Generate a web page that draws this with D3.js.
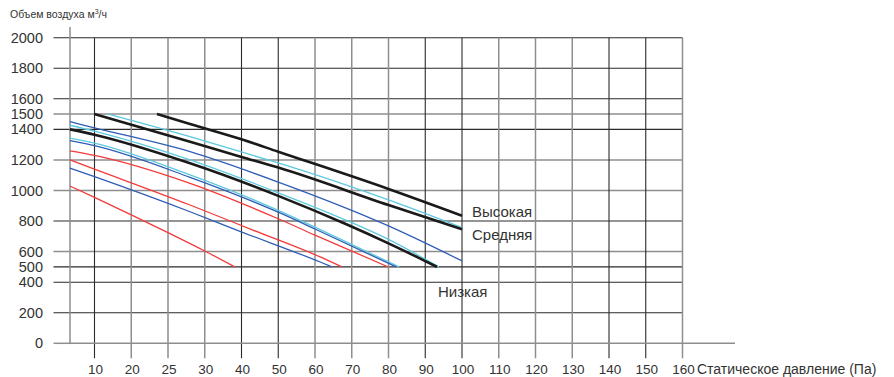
<!DOCTYPE html>
<html><head><meta charset="utf-8">
<script src="https://cdn.jsdelivr.net/npm/d3@7"></script>
<style>
html,body{margin:0;padding:0;background:#fff;}
svg{display:block;font-family:"Liberation Sans",Arial,sans-serif;}
</style></head>
<body>
<svg id="chart" width="894" height="377"></svg>
<script>
// ---- data ----
const pressureTicks = [10,20,25,30,40,50,60,70,80,90,100,110,120,130,140,150,160];
const flowTicks = [0,200,400,500,600,800,1000,1200,1400,1500,1600,1800,2000];
const darkPressureLines = [10,40,50,90,100,140,150];
const darkFlowLines = [2000,1800,1600,1400,800,500,400,200];

// [pressure Pa, airflow m3/h]
const blackHigh = [[23.5,1500],[28,1435],[40,1335],[50,1254],[80,1010],[100,835]];
const blackMid  = [[10,1500],[28,1319],[40,1220],[50,1150],[80,905],[100,746]];
const blackLow  = [[0,1400],[10,1365],[28,1178],[50,965],[69,774],[80,654],[88.5,556],[93.2,500]];
const cyanTop   = [[13.7,1500],[28,1352],[40,1252],[50,1180],[80,938],[100,757]];
const cyanMid   = [[0,1427],[10,1388],[28,1200],[50,985],[69,800],[80,680],[93.7,500]];
const cyanLow   = [[0,1343],[10,1310],[28,1102],[50,870],[60,760],[82.9,500]];
const blueTop   = [[0,1450],[10,1410],[28,1254],[50,1055],[80,768],[100,539]];
const blueMid   = [[0,1326],[10,1293],[28,1086],[50,858],[60,748],[82.1,500]];
const blueLow   = [[0,1147],[10,1091],[28,861],[38.7,741],[61.4,532],[64.6,500]];
const redTop    = [[0,1260],[10,1230],[28,1047],[50,815],[60,708],[79.9,500]];
const redMid    = [[0,1200],[10,1140],[28,905],[43.1,741],[61.4,565],[67.3,500]];
const redLow    = [[0,1029],[10,955],[20,841],[25,724],[30,604],[38.2,500]];

const speedLabels = ["Высокая","Средняя","Низкая"];
const yTitle = "Объем воздуха м";
const xTitle = "Статическое давление (Па)";

// ---- layout ----
const svg = d3.select("#chart");
const originX = 70, firstTickX = 94.5, step = 36.75;
const x = d3.scaleLinear()
  .domain([0, ...pressureTicks])
  .range([originX, ...pressureTicks.map((d,i)=> firstTickX + i*step)]);
const y = d3.scaleLinear().domain([0,2000]).range([343.3, 37.7]);

const DARK = "#2a2a2a", GRAY = "#8e8e8e";

// horizontal grid
const gh = svg.append("g");
gh.selectAll("line").data(flowTicks.filter(d=>d>0)).enter().append("line")
  .attr("x1", 53.5).attr("x2", x(160))
  .attr("y1", d=>y(d)).attr("y2", d=>y(d))
  .attr("stroke", d=> darkFlowLines.includes(d) ? DARK : GRAY)
  .attr("stroke-width", d=> darkFlowLines.includes(d) ? 1.1 : 1.5);
gh.append("line").attr("x1",53.5).attr("x2",originX).attr("y1",y(0)).attr("y2",y(0))
  .attr("stroke",GRAY).attr("stroke-width",1.5);

// vertical grid
const gv = svg.append("g");
gv.selectAll("line").data(pressureTicks).enter().append("line")
  .attr("x1", d=>x(d)).attr("x2", d=>x(d))
  .attr("y1", y(2000)).attr("y2", y(0)+15)
  .attr("stroke", d=> darkPressureLines.includes(d) ? DARK : GRAY)
  .attr("stroke-width", d=> darkPressureLines.includes(d) ? 1.1 : 1.5);

// axes lines
svg.append("line").attr("x1",originX).attr("x2",originX).attr("y1",27).attr("y2",y(0))
  .attr("stroke",GRAY).attr("stroke-width",1.5);
svg.append("line").attr("x1",originX).attr("x2",x(160)+52.5).attr("y1",y(0)).attr("y2",y(0))
  .attr("stroke",GRAY).attr("stroke-width",1.5);

// tick labels
svg.append("g").selectAll("text").data(flowTicks).enter().append("text")
  .attr("x", 43).attr("y", d=>y(d)+5)
  .attr("text-anchor","end").attr("font-size",14.5).attr("fill","#333")
  .text(d=>d);
svg.append("g").selectAll("text").data(pressureTicks).enter().append("text")
  .attr("x", d=>x(d)+1).attr("y", 374)
  .attr("text-anchor","middle").attr("font-size",13.5).attr("fill","#333")
  .text(d=>d);

// titles
const yt = svg.append("text").attr("x",10).attr("y",18).attr("font-size",10.5).attr("fill","#333");
yt.append("tspan").text(yTitle);
yt.append("tspan").attr("font-size",7).attr("dy",-4).text("3");
yt.append("tspan").attr("dy",4).text("/ч");
svg.append("text").attr("x",x(160)+14.5).attr("y",374).attr("font-size",14).attr("fill","#333").text(xTitle);

// curves
const line = d3.line().x(d=>x(d[0])).y(d=>y(d[1])).curve(d3.curveMonotoneX);
const thin = [
  [cyanTop,"#5cc9de"],[cyanMid,"#5cc9de"],[cyanLow,"#5cc9de"],
  [blueTop,"#2f5db5"],[blueMid,"#2f5db5"],[blueLow,"#2f5db5"],
  [redTop,"#f23b3b"],[redMid,"#f23b3b"],[redLow,"#f23b3b"]
];
svg.append("g").selectAll("path").data(thin).enter().append("path")
  .attr("d", d=>line(d[0])).attr("fill","none")
  .attr("stroke", d=>d[1]).attr("stroke-width",1.3);
svg.append("g").selectAll("path").data([blackHigh,blackMid,blackLow]).enter().append("path")
  .attr("d", d=>line(d)).attr("fill","none")
  .attr("stroke","#1a1a1a").attr("stroke-width",2.6);

// speed labels
const ends = [blackHigh,blackMid,blackLow].map(s=>s[s.length-1]);
const offs = [[10,1],[10,11],[1,30]];
svg.append("g").selectAll("text").data(speedLabels).enter().append("text")
  .attr("x",(d,i)=>x(ends[i][0])+offs[i][0])
  .attr("y",(d,i)=>y(ends[i][1])+offs[i][1])
  .attr("font-size",15).attr("fill","#333").text(d=>d);
</script>
</body></html>
